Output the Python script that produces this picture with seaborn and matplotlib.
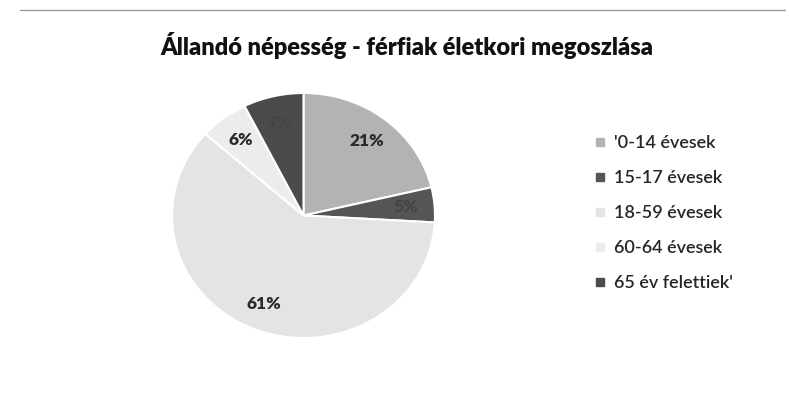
import matplotlib
matplotlib.use("Agg")
import matplotlib.pyplot as plt
from matplotlib.lines import Line2D
import seaborn as sns

# Adatok
korcsoportok = ["'0-14 évesek", "15-17 évesek", "18-59 évesek", "60-64 évesek", "65 év felettiek'"]
aranyok = [21.3, 4.6, 60.7, 6.0, 7.4]
szinek = ["#b3b3b3", "#555555", "#e4e4e4", "#ececec", "#4b4b4b"]
cim = "Állandó népesség - férfiak életkori megoszlása"

sns.set_theme(style="white")
plt.rcParams["font.family"] = ["Lato", "DejaVu Sans"]

fig = plt.figure(figsize=(7.89, 4.07), dpi=100)
ax = fig.add_axes([0.218, 0.1695, 0.3333, 0.602])

szeletek, _, szazalekok = ax.pie(
    aranyok, colors=szinek, startangle=90, counterclock=False,
    autopct="%.0f%%", pctdistance=0.78,
    wedgeprops=dict(edgecolor="white", linewidth=1.5),
    textprops=dict(color="#2a2a2a", fontsize=12.5, fontweight="heavy"),
)
# a sötét szeleteken a felirat alig látszik
for t, c in zip(szazalekok, szinek):
    if c in ("#555555", "#4b4b4b"):
        t.set_color("#454545")
ax.set_aspect("auto")
ax.set_xlim(-1, 1)
ax.set_ylim(-1, 1)

fig.text(0.515, 0.889, cim, ha="center", va="center",
         fontsize=17, fontweight="heavy", color="#111111")

jelek = [Line2D([], [], marker="s", linestyle="", color=c, markersize=6) for c in szinek]
fig.legend(jelek, korcsoportok, loc="upper left", bbox_to_anchor=(0.745, 0.685),
           frameon=False, labelspacing=1.05, handlelength=0.6,
           handletextpad=0.45, borderaxespad=0,
           prop=dict(size=13, weight="semibold"))

# a beszkennelt keret felső vonala
fig.add_artist(Line2D([0.025, 0.995], [0.975, 0.975], color="#9a9a9a", lw=1))

fig.savefig("out.png", dpi=100)
